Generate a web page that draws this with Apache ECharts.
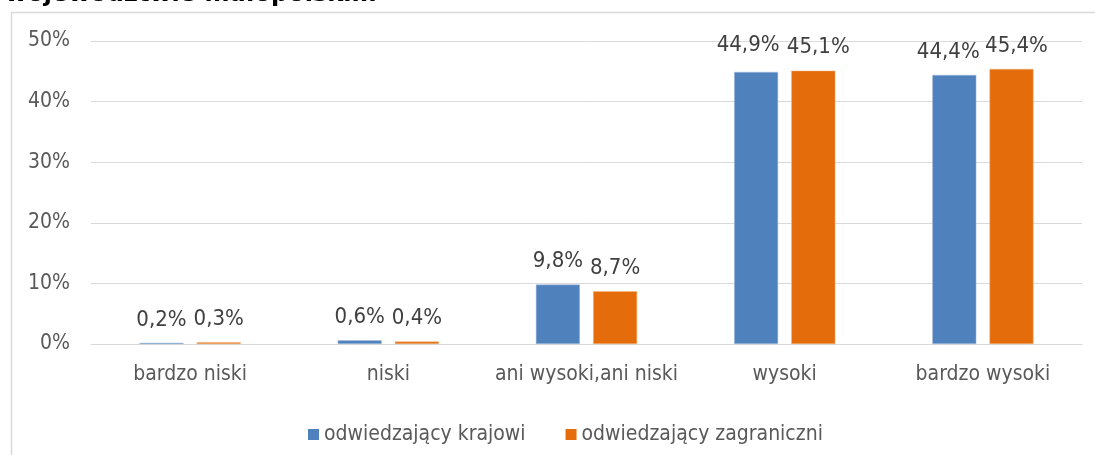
<!DOCTYPE html>
<html lang="pl">
<head>
    <meta charset="UTF-8">
    <title>województwie małopolskim</title>
    <style>
        * { margin: 0; padding: 0; }
        html, body { width: 1095px; height: 455px; background: #fff; overflow: hidden; }
        #chart { width: 1095px; height: 455px; }
    </style>
</head>
<body>
    <div id="chart"></div>
    <script src="https://cdn.jsdelivr.net/npm/echarts@6/dist/echarts.min.js"></script>
    <script>
        // dane z wykresu
        var kategorie = ['bardzo niski', 'niski', 'ani wysoki,ani niski', 'wysoki', 'bardzo wysoki'];
        var krajowi = [0.2, 0.6, 9.8, 44.9, 44.4];
        var zagraniczni = [0.3, 0.4, 8.7, 45.1, 45.4];
        var nazwySerii = ['odwiedzający krajowi', 'odwiedzający zagraniczni'];
        var tytul = 'województwie małopolskim';

        // przesunięcia etykiet, które w oryginale się rozsuwają (wysoki, bardzo wysoki)
        var przesKrajowi = [[0, 0], [0, 0], [0, 0], [-8, -4], [-6, 0]];
        var przesZagraniczni = [[0, 0], [0, 0], [0, 0], [5, 0], [5, 0]];

        var font = '"DejaVu Sans Condensed", "DejaVu Sans", sans-serif';

        function fmt(v) {
            return v.toFixed(1).replace('.', ',') + '%';
        }

        function dane(wartosci, przes) {
            return wartosci.map(function (v, i) {
                return { value: v, label: { offset: przes[i] } };
            });
        }

        var myChart = echarts.init(document.getElementById('chart'));
        var etykieta = {
            show: true, position: 'top', distance: 12,
            color: '#404040', fontSize: 22, fontFamily: font,
            formatter: function (p) { return fmt(p.value); }
        };
        var option = {
            animation: false,
            backgroundColor: '#fff',
            graphic: [
                {
                    type: 'rect',
                    shape: { x: 11.5, y: 12.5, width: 1300, height: 600 },
                    style: { fill: 'none', stroke: '#d9d9d9', lineWidth: 1.5 },
                    silent: true
                },
                {
                    type: 'text',
                    left: 5,
                    top: -17,
                    style: {
                        text: tytul,
                        fill: '#000',
                        font: 'bold 24px "DejaVu Sans", sans-serif'
                    }
                }
            ],
            legend: {
                data: nazwySerii,
                left: 303,
                top: 419,
                itemWidth: 11,
                itemHeight: 11,
                itemGap: 40,
                icon: 'rect',
                itemStyle: { borderWidth: 0 },
                textStyle: { color: '#595959', fontSize: 21, fontFamily: font }
            },
            grid: { left: 91, right: 13, top: 41, bottom: 111 },
            xAxis: {
                type: 'category',
                data: kategorie,
                axisTick: { show: false },
                axisLine: { lineStyle: { color: '#d9d9d9', width: 1 } },
                axisLabel: { interval: 0, color: '#595959', fontSize: 21, fontFamily: font, margin: 20 }
            },
            yAxis: {
                type: 'value',
                min: 0,
                max: 50,
                interval: 10,
                axisLine: { show: false },
                axisTick: { show: false },
                splitLine: { lineStyle: { color: '#d9d9d9' } },
                axisLabel: {
                    color: '#595959', fontSize: 21, fontFamily: font, margin: 21,
                    formatter: function (v) { return v + '%'; }
                }
            },
            series: [
                {
                    name: nazwySerii[0],
                    type: 'bar',
                    data: dane(krajowi, przesKrajowi),
                    barWidth: 44,
                    barGap: '30%',
                    itemStyle: { color: '#4F81BD', borderColor: '#a7c0de', borderWidth: 0.5 },
                    label: etykieta
                },
                {
                    name: nazwySerii[1],
                    type: 'bar',
                    data: dane(zagraniczni, przesZagraniczni),
                    barWidth: 44,
                    itemStyle: { color: '#E46C0A', borderColor: '#f2b585', borderWidth: 0.5 },
                    label: etykieta
                }
            ]
        };
        myChart.setOption(option);
    </script>
</body>
</html>
